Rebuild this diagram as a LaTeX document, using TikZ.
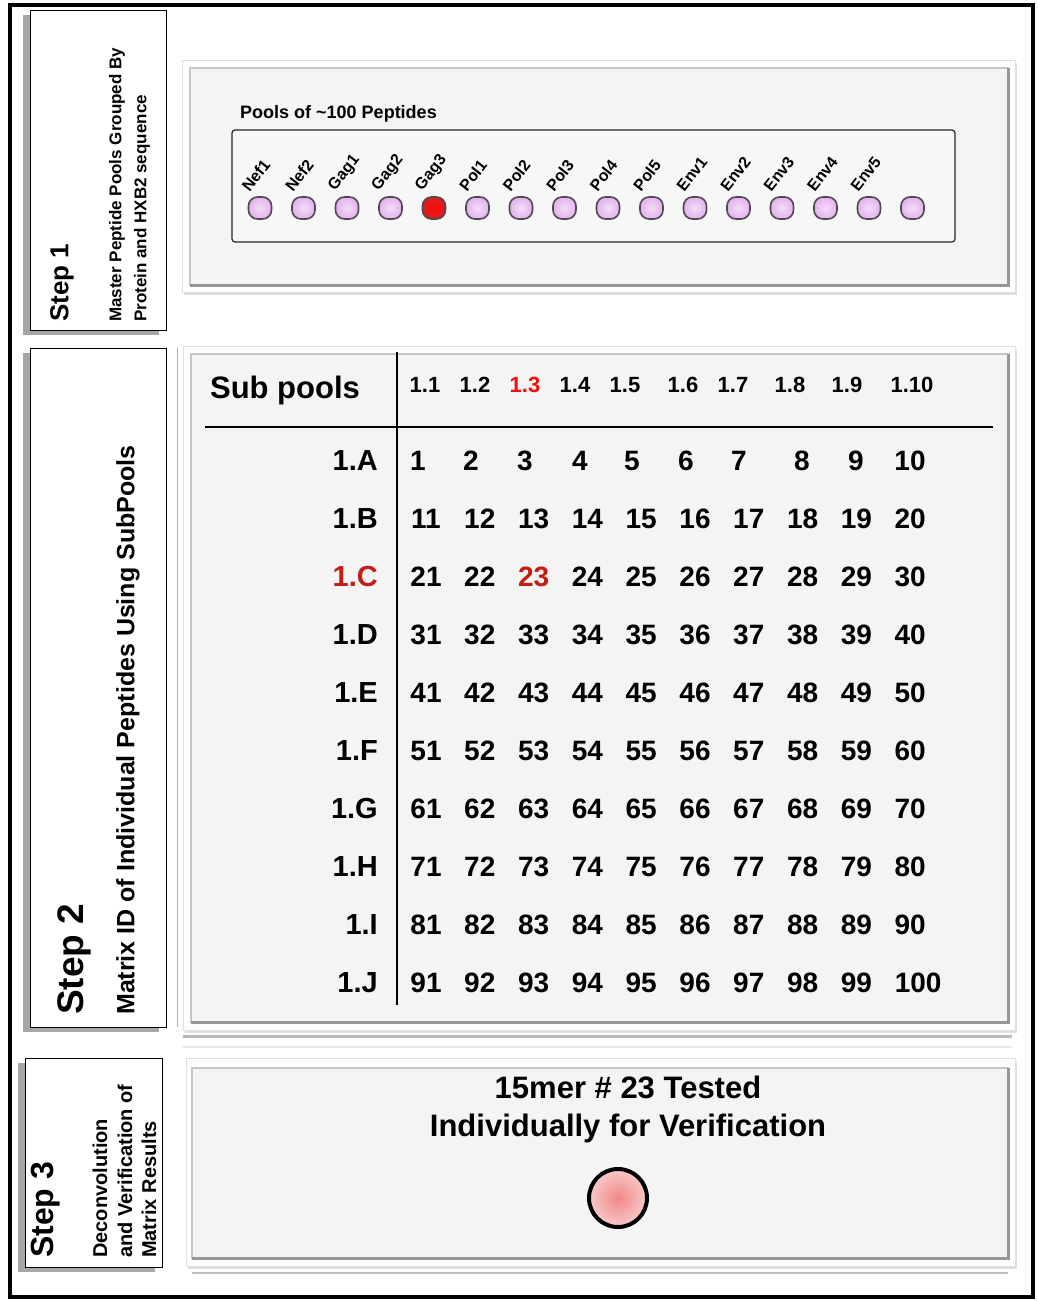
\documentclass[tikz,border=0pt]{standalone}
\usepackage{fontspec}
\setmainfont{Liberation Sans}
\usepackage{tikz}
\usetikzlibrary{positioning, calc, shadows, backgrounds}
\definecolor{panelBg}{RGB}{244, 244, 244}
\definecolor{panelEdge}{RGB}{150, 150, 150}
\definecolor{wellFill}{RGB}{228, 178, 238}
\definecolor{wellBorder}{RGB}{80, 72, 82}
\definecolor{hitRed}{RGB}{250, 10, 10}
\definecolor{hitText}{RGB}{196, 30, 20}
\definecolor{testPink}{RGB}{240, 135, 135}
\newcommand{\fsz}[1]{\fontsize{#1}{#1}\selectfont}

\begin{document}
\begin{tikzpicture}[
    x=1pt, y=-1pt,
    frameLine/.style={draw=black, line width=4pt},
    labelPanel/.style={fill=white, draw=black, line width=0.9pt, drop shadow={shadow xshift=-7pt, shadow yshift=-5pt, opacity=0.7}},
    panelOuter/.style={fill=white, draw=gray!25, line width=0.8pt, drop shadow={shadow xshift=2pt, shadow yshift=-3pt, opacity=0.25}},
    panelInner/.style={fill=panelBg, draw=gray!45, line width=1.5pt},
    bevelDark/.style={draw=panelEdge, line width=3pt},
    stepTitle/.style={rotate=90, anchor=west, inner sep=0pt, font=\bfseries},
    stepNote/.style={rotate=90, anchor=west, inner sep=0pt, font=\bfseries\fsz{17}},
    well/.style={draw=wellBorder, line width=1.6pt, rounded corners=9pt, minimum width=23pt, minimum height=22pt, inner sep=0pt, inner color=wellFill!45!white, outer color=wellFill},
    hitWell/.style={well, inner color=hitRed, outer color=hitRed!85!black!90},
    wellLabel/.style={rotate=52, anchor=west, inner sep=0pt, font=\bfseries\fsz{16}},
    headCell/.style={inner sep=0pt, font=\bfseries\fsz{22}},
    rowLabel/.style={anchor=east, inner sep=0pt, font=\bfseries\fsz{29}},
    cell/.style={inner sep=0pt, font=\bfseries\fsz{28}},
    tableLine/.style={draw=black, line width=1.6pt}
]
    \useasboundingbox (0,0) rectangle (1037,1301);

    % Step panels (left)
    \path[labelPanel] (30,10) rectangle (166,330);
    \path[labelPanel] (30,348) rectangle (166,1027);
    \draw[gray!60, line width=1pt] (177,348) -- (177,1027);
    \path[labelPanel] (25,1058) rectangle (162,1267);

    % Content panels (right)
    \path[panelOuter] (182,60) rectangle (1015,292);
    \path[panelInner] (190,68) rectangle (1008,285);
    \draw[bevelDark] (190,285) -- (1008,285) -- (1008,68);

    \path[panelOuter] (183,346) rectangle (1015,1030);
    \path[panelInner] (191,354) rectangle (1008,1022);
    \draw[bevelDark] (191,1022) -- (1008,1022) -- (1008,354);
    \draw[gray!55, line width=3pt] (183,1036) -- (1012,1036);
    \draw[gray!18, line width=2pt] (183,1047) -- (1012,1047);

    \path[panelOuter] (186,1058) rectangle (1015,1266);
    \path[panelInner] (192,1068) rectangle (1008,1258);
    \draw[bevelDark] (192,1258) -- (1008,1258) -- (1008,1068);
    \draw[gray!50, line width=2pt] (192,1273) -- (1008,1273);

    % Outer frame
    \draw[frameLine] (10,5) rectangle (1033,1297);

    % Step 1
    \node[stepTitle, font=\bfseries\fsz{26}] (step1) at (62,322) {Step 1};
    \node[stepNote] (step1a) at (117,322) {Master Peptide Pools Grouped By};
    \node[stepNote] (step1b) at (142,322) {Protein and HXB2 sequence};

    \node[anchor=west, inner sep=0pt, font=\bfseries\fsz{18}] (poolTitle) at (240,114) {Pools of \textasciitilde100 Peptides};
    \draw[draw=gray!30!black, line width=1.2pt, fill=gray!6, rounded corners=3pt] (232,130) rectangle (955,242);
    \foreach \name [count=\i] in {Nef1,Nef2,Gag1,Gag2,Gag3,Pol1,Pol2,Pol3,Pol4,Pol5,Env1,Env2,Env3,Env4,Env5,{}} {
        \pgfmathsetmacro\wx{260+43.5*(\i-1)}
        \ifnum\i=5
            \node[hitWell] (w\i) at (\wx,208) {};
        \else
            \node[well] (w\i) at (\wx,208) {};
        \fi
        \ifnum\i<16
            \node[wellLabel] (wl\i) at (\wx-15,189) {\name};
        \fi
    }

    % Step 2
    \node[stepTitle, font=\bfseries\fsz{37}] (step2) at (74,1015) {Step 2};
    \node[stepTitle, font=\bfseries\fsz{25}] (step2a) at (128,1015) {Matrix ID of Individual Peptides Using SubPools};

    \node[inner sep=0pt, font=\bfseries\fsz{31}] (subpools) at (285,390) {Sub pools};
    \draw[tableLine] (397,352) -- (397,1005);
    \draw[tableLine] (205,427) -- (993,427);

    \foreach \hx/\hl/\hc [count=\k] in {425/1.1/black, 475/1.2/black, 525/1.3/hitRed, 575/1.4/black, 625/1.5/black,
                                          683/1.6/black, 733/1.7/black, 790/1.8/black, 847/1.9/black, 912/1.10/black} {
        \node[headCell, text=\hc] (h\k) at (\hx,385) {\hl};
    }

    \foreach \lab [count=\r] in {A,B,C,D,E,F,G,H,I,J} {
        \pgfmathsetmacro\ry{461+58*(\r-1)}
        \ifnum\r=3
            \node[rowLabel, text=hitText] (row\r) at (378,\ry) {1.\lab};
        \else
            \node[rowLabel] (row\r) at (378,\ry) {1.\lab};
        \fi
    }

    % first row sits a little to the left
    \foreach \nx [count=\c] in {418,471,525,580,632,686,739,802,856,910} {
        \node[cell] (n\c) at (\nx,461) {\c};
    }
    \foreach \r in {2,...,10} {
        \foreach \c in {1,...,10} {
            \pgfmathtruncatemacro\n{10*(\r-1)+\c}
            \pgfmathsetmacro\nx{426+53.8*(\c-1)+(\n==100 ? 8 : 0)}
            \pgfmathsetmacro\ny{461+58*(\r-1)}
            \ifnum\n=23
                \node[cell, text=hitText] (n\n) at (\nx,\ny) {\n};
            \else
                \node[cell] (n\n) at (\nx,\ny) {\n};
            \fi
        }
    }

    % Step 3
    \node[stepTitle, font=\bfseries\fsz{32}] (step3) at (46,1258) {Step 3};
    \node[stepNote, font=\bfseries\fsz{20}] (step3a) at (100,1258) {Deconvolution};
    \node[stepNote, font=\bfseries\fsz{20}] (step3b) at (125,1258) {and Verification of};
    \node[stepNote, font=\bfseries\fsz{20}] (step3c) at (149,1258) {Matrix Results};

    \node[inner sep=0pt, font=\bfseries\fsz{31}] (tested1) at (628,1087) {15mer \# 23 Tested};
    \node[inner sep=0pt, font=\bfseries\fsz{31}] (tested2) at (628,1128) {Individually for Verification};
    \node[circle, draw=black, line width=4pt, minimum size=58pt, inner color=testPink, outer color=testPink!45!white] (tested) at (618,1198) {};

\end{tikzpicture}
\end{document}
